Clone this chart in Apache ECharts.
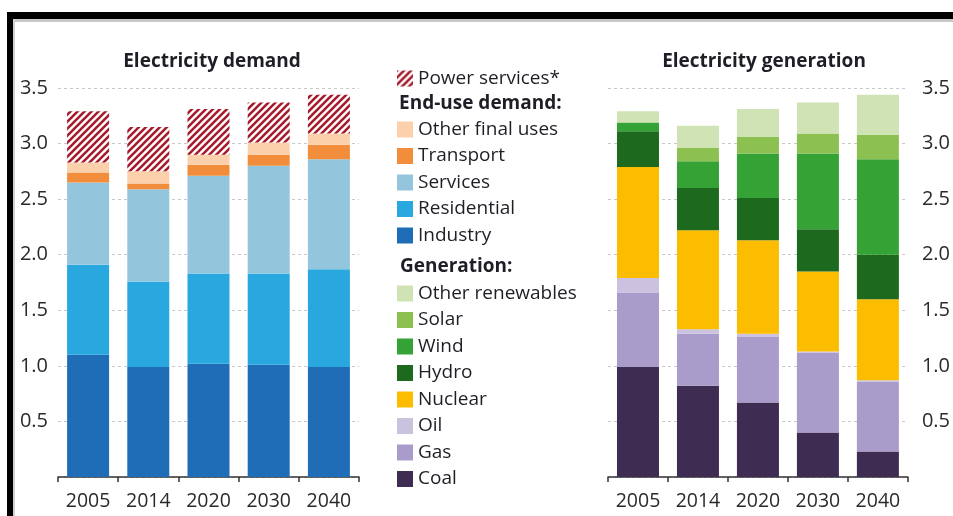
<!DOCTYPE html>
<html>
<head>
<meta charset="utf-8">
<script src="https://cdn.jsdelivr.net/npm/echarts@6/dist/echarts.min.js"></script>
<style>
  html, body { margin: 0; padding: 0; background: #fff; }
  #chart { width: 953px; height: 516px; }
</style>
</head>
<body>
<div id="chart"></div>
<script>
// Categories and tick labels
var years = ['2005', '2014', '2020', '2030', '2040'];
var yTicks = [0.5, 1.0, 1.5, 2.0, 2.5, 3.0, 3.5];

// Electricity demand, stacked from the bottom up
var industry      = [1.10, 0.99, 1.02, 1.01, 0.99];
var residential   = [0.81, 0.77, 0.81, 0.82, 0.88];
var services      = [0.74, 0.83, 0.88, 0.97, 0.99];
var transport     = [0.09, 0.05, 0.10, 0.10, 0.13];
var otherFinal    = [0.09, 0.11, 0.09, 0.11, 0.10];
var powerServices = [0.46, 0.40, 0.41, 0.36, 0.35];

// Electricity generation, stacked from the bottom up
var coal     = [0.99, 0.82, 0.67, 0.40, 0.23];
var gas      = [0.67, 0.47, 0.59, 0.72, 0.63];
var oil      = [0.13, 0.04, 0.03, 0.01, 0.01];
var nuclear  = [1.00, 0.89, 0.84, 0.72, 0.73];
var hydro    = [0.32, 0.38, 0.38, 0.38, 0.40];
var wind     = [0.08, 0.24, 0.40, 0.68, 0.86];
var solar    = [0.00, 0.12, 0.15, 0.18, 0.22];
var otherRen = [0.10, 0.20, 0.25, 0.28, 0.36];

var FONT = '"Open Sans", Lato, sans-serif';
var TEXT = '#1e1e26';

// Diagonal red hatch used for power services
function hatchPattern() {
  var s = 7;
  var c = document.createElement('canvas');
  c.width = s; c.height = s;
  var g = c.getContext('2d');
  g.fillStyle = '#ffffff';
  g.fillRect(0, 0, s, s);
  g.strokeStyle = '#a51d2d';
  g.lineWidth = 2.6;
  g.beginPath();
  g.moveTo(-1, s + 1); g.lineTo(s + 1, -1);
  g.moveTo(-1, 1); g.lineTo(1, -1);
  g.moveTo(s - 1, s + 1); g.lineTo(s + 1, s - 1);
  g.stroke();
  return { image: c, repeat: 'repeat' };
}

function bar(name, data, color, axis) {
  return {
    name: name,
    type: 'bar',
    stack: 'g' + axis,
    xAxisIndex: axis,
    yAxisIndex: axis,
    data: data,
    barWidth: 42,
    itemStyle: { color: color },
    emphasis: { disabled: true },
    animation: false
  };
}

function xAxis(gridIndex) {
  return {
    type: 'category',
    gridIndex: gridIndex,
    data: years,
    boundaryGap: true,
    axisLine: { lineStyle: { color: '#333', width: 1.5 } },
    axisTick: { show: true, interval: 0, length: 5, lineStyle: { color: '#333', width: 1.5 } },
    axisLabel: { color: '#2a2a2a', fontFamily: FONT, fontSize: 19.5, margin: 14 }
  };
}

function yAxis(gridIndex, position, margin) {
  return {
    type: 'value',
    gridIndex: gridIndex,
    position: position,
    min: 0, max: 3.5, interval: 0.5,
    axisLine: { show: false },
    axisTick: { show: false },
    axisLabel: {
      color: '#2a2a2a', fontFamily: FONT, fontSize: 20, margin: margin,
      showMinLabel: false,
      formatter: function (v) {
        return yTicks.indexOf(v) >= 0 ? v.toFixed(1) : '';
      }
    },
    splitLine: { lineStyle: { color: '#c9c9c9', type: [3, 3], width: 1 } }
  };
}

function legendBlock(names, top) {
  return {
    data: names,
    orient: 'vertical',
    left: 397,
    top: top,
    padding: 0,
    itemWidth: 16,
    itemHeight: 16,
    itemGap: 7.5,
    icon: 'rect',
    selectedMode: false,
    textStyle: { color: TEXT, fontFamily: FONT, fontSize: 19 }
  };
}

var chart = echarts.init(document.getElementById('chart'), null, { renderer: 'canvas' });

chart.setOption({
  backgroundColor: '#ffffff',
  animation: false,
  grid: [
    { left: 58, right: 594, top: 88, bottom: 39 },
    { left: 608, right: 45, top: 88, bottom: 39 }
  ],
  xAxis: [xAxis(0), xAxis(1)],
  yAxis: [yAxis(0, 'left', 10), yAxis(1, 'right', 14)],
  legend: [
    legendBlock(['Power services*'], 69),
    legendBlock(['Other final uses', 'Transport', 'Services', 'Residential', 'Industry'], 120),
    legendBlock(['Other renewables', 'Solar', 'Wind', 'Hydro', 'Nuclear', 'Oil', 'Gas', 'Coal'], 284)
  ],
  series: [
    bar('Industry', industry, '#1f6db6', 0),
    bar('Residential', residential, '#29a8e0', 0),
    bar('Services', services, '#93c6dc', 0),
    bar('Transport', transport, '#f28e3b', 0),
    bar('Other final uses', otherFinal, '#fbd0ab', 0),
    bar('Power services*', powerServices, hatchPattern(), 0),

    bar('Coal', coal, '#3e2c53', 1),
    bar('Gas', gas, '#aa9cca', 1),
    bar('Oil', oil, '#cac2de', 1),
    bar('Nuclear', nuclear, '#fcbd00', 1),
    bar('Hydro', hydro, '#1d6a1e', 1),
    bar('Wind', wind, '#35a236', 1),
    bar('Solar', solar, '#8cc152', 1),
    bar('Other renewables', otherRen, '#cfe3b5', 1)
  ],
  graphic: [
    // frame
    { type: 'rect', shape: { x: 7, y: 12, width: 946, height: 7 }, style: { fill: '#000' }, silent: true },
    { type: 'rect', shape: { x: 13, y: 19, width: 940, height: 3 }, style: { fill: '#c8c8c8' }, silent: true },
    { type: 'rect', shape: { x: 7, y: 12, width: 6, height: 504 }, style: { fill: '#000' }, silent: true },
    { type: 'rect', shape: { x: 13, y: 19, width: 2, height: 497 }, style: { fill: '#d0d0d0' }, silent: true },
    // panel titles
    { type: 'text', x: 212, y: 62, silent: true,
      style: { text: 'Electricity demand', fill: TEXT, font: 'bold 19px ' + FONT, textAlign: 'center', textVerticalAlign: 'middle' } },
    { type: 'text', x: 764, y: 62, silent: true,
      style: { text: 'Electricity generation', fill: TEXT, font: 'bold 19px ' + FONT, textAlign: 'center', textVerticalAlign: 'middle' } },
    // legend group headers
    { type: 'text', x: 399, y: 104, silent: true,
      style: { text: 'End-use demand:', fill: TEXT, font: 'bold 19px ' + FONT, textAlign: 'left', textVerticalAlign: 'middle' } },
    { type: 'text', x: 400, y: 267, silent: true,
      style: { text: 'Generation:', fill: TEXT, font: 'bold 19px ' + FONT, textAlign: 'left', textVerticalAlign: 'middle' } }
  ]
});
</script>
</body>
</html>
